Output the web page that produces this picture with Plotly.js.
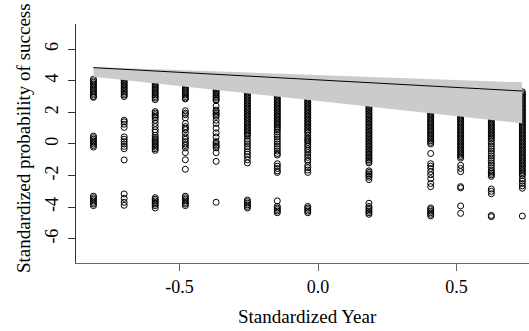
<!DOCTYPE html>
<html>
<head>
<meta charset="utf-8">
<script src="https://cdn.plot.ly/plotly-3.0.1.min.js"></script>
<style>
html,body{margin:0;padding:0;background:#fff;}
#chart{width:529px;height:331px;}
</style>
</head>
<body>
<div id="chart"></div>
<script>
// Standardized year of each observed column
var yearX = [-0.811, -0.700, -0.588, -0.479, -0.368, -0.255, -0.147, -0.037, 0.184, 0.407, 0.515, 0.626, 0.738];

// Standardized probability of success observations per year column
var yr01 = [4.1,4.0,3.9,3.8,3.7,3.6,3.5,3.4,3.3,3.2,3.1,3.0,2.95, 0.5,0.4,0.3,0.2,0.1,0.0,-0.1,-0.2, -3.3,-3.4,-3.5,-3.6,-3.7,-3.8,-3.9];
var yr02 = [4.2,4.1,4.0,3.9,3.8,3.7,3.6,3.5,3.4,3.3,3.2,3.1,3.0, 1.5,1.4,1.25,1.05, 0.45,0.3,0.15,0.0,-0.15,-0.3, -1.01, -3.16,-3.44,-3.69,-3.88];
var yr03 = [4.0,3.9,3.8,3.7,3.6,3.5,3.4,3.3,3.2,3.1,3.0,2.9,2.8, 2.05,1.95,1.85,1.75,1.65,1.5,1.3,1.1,0.9,0.75,0.55,0.4,0.3,0.2,0.1,0.0,-0.1,-0.2,-0.3,-0.4, -3.4,-3.5,-3.6,-3.7,-3.8,-3.9,-4.05];
var yr04 = [3.8,3.7,3.6,3.5,3.4,3.3,3.2,3.1,3.0,2.9,2.85, 2.1,1.95,1.85,1.65,1.3,1.1,1.0,0.9,0.7,0.45,0.3,0.15,0.0,-0.1,-0.25,-0.55, -1.0, -1.6, -3.3,-3.4,-3.5,-3.6,-3.7,-3.8,-3.9];
var yr05 = [3.6,3.5,3.4,3.3,3.2,3.1,3.0,2.9,2.8,2.75, 2.4,2.15,2.05,1.95,1.85,1.75,1.5,1.3,1.0,0.7,0.45,0.15,0.05,-0.05,-0.15,-0.25,-0.55,-1.1, -3.69];
var yr06 = [3.4,3.3,3.2,3.1,3.0,2.9,2.8,2.7,2.6,2.5,2.4,2.3,2.2,2.1,2.0,1.9,1.8,1.7,1.6,1.5,1.4,1.3,1.2,1.1,1.0,0.9,0.8,0.7,0.6,0.5, 0.3,0.15,0.0,-0.15,-0.3,-0.5,-0.65,-0.8,-1.0,-1.2, -3.55,-3.65,-3.75,-3.85,-3.95,-4.05];
var yr07 = [3.2,3.1,3.0,2.9,2.8,2.7,2.6,2.5,2.4,2.3,2.2,2.1,2.0,1.9,1.8,1.7,1.6,1.5,1.4,1.3,1.2,1.1,1.0,0.9, 0.75,0.6,0.45,0.3,0.15,0.0,-0.15,-0.3,-0.45,-0.6,-0.7, -1.25,-1.4,-1.55,-1.7,-1.8, -3.6,-3.95,-4.05,-4.15,-4.25,-4.35];
var yr08 = [3.0,2.9,2.8,2.7,2.6,2.5,2.4,2.3,2.2,2.1,2.0,1.9,1.8,1.7,1.6,1.5,1.4,1.3,1.2,1.1,1.0,0.9,0.8,0.7, 0.55,0.4,0.3,0.2,0.1,-0.05,-0.15,-0.3,-0.4,-0.55,-0.7,-0.85,-1.0,-1.1, -1.35,-1.5,-1.65,-1.8, -3.95,-4.05,-4.15,-4.25,-4.35];
var yr09 = [2.6,2.5,2.4,2.3,2.2,2.1,2.0,1.9,1.8,1.7,1.6,1.5,1.4,1.3,1.2,1.1,1.0,0.9,0.8,0.7,0.6,0.5,0.4,0.3,0.2,0.1,0.0,-0.1,-0.2,-0.3,-0.4,-0.5,-0.6,-0.7,-0.8,-0.9,-1.0,-1.1,-1.2, -1.7,-1.8,-1.9,-2.0,-2.1,-2.25, -3.75,-3.95,-4.05,-4.15,-4.25,-4.35,-4.45];
var yr10 = [2.1,2.0,1.9,1.8,1.7,1.6,1.5,1.4,1.3,1.2,1.1,1.0,0.9,0.8,0.7,0.6,0.5,0.4,0.3,0.2,0.1,0.0, -0.6, -1.25,-1.4,-1.55,-1.75,-1.95,-2.2,-2.5,-2.7, -4.05,-4.15,-4.25,-4.35,-4.45,-4.55];
var yr11 = [1.9,1.8,1.7,1.6,1.5,1.4,1.3,1.2,1.1,1.0,0.9,0.8,0.7,0.6,0.5,0.4,0.3,0.2,0.1,0.0,-0.1,-0.2,-0.3,-0.4,-0.5,-0.6,-0.7,-0.8,-0.9, -1.35,-1.55,-1.75, -2.7,-2.78, -3.92, -4.39];
var yr12 = [1.8,1.7,1.6,1.5,1.4,1.3,1.2,1.1,1.0,0.9,0.8,0.7,0.6,0.5,0.4,0.3,0.15, 0.0,-0.15,-0.3,-0.45,-0.6,-0.75,-0.9,-1.05,-1.2,-1.35,-1.5,-1.65,-1.75,-1.85,-1.95,-2.05, -2.85,-3.0,-3.15, -4.52,-4.6];
var yr13 = [3.3,3.2,3.1,3.0,2.9,2.8,2.7,2.6,2.5,2.4,2.3,2.2,2.1,2.0,1.9,1.8,1.7,1.6,1.5,1.4,1.3,1.2,1.1,1.0,0.9,0.8,0.7,0.6,0.5,0.4,0.3,0.2,0.1,0.0,-0.1,-0.2,-0.3,-0.4,-0.5,-0.6,-0.7,-0.8,-0.9,-1.0,-1.1,-1.2,-1.3,-1.4,-1.5,-1.6,-1.7,-1.8,-1.9,-2.0, -2.2,-2.35,-2.5,-2.65,-2.8, -4.56];

// Fitted trend and its confidence band (at first and last year)
var fitX = [-0.811, 0.737];
var fitY = [4.83, 3.35];
var bandUpper = [4.87, 3.90];
var bandLower = [4.26, 1.31];

// Axis ticks
var xTickVals = [-0.5, 0.0, 0.5];
var xTickText = ['-0.5', '0.0', '0.5'];
var yTickVals = [-6, -4, -2, 0, 2, 4, 6];
var yTickText = ['-6', '-4', '-2', '0', '2', '4', '6'];

var columns = [yr01, yr02, yr03, yr04, yr05, yr06, yr07, yr08, yr09, yr10, yr11, yr12, yr13];
var ptsX = [], ptsY = [];
columns.forEach(function (col, i) {
  col.forEach(function (v) { ptsX.push(yearX[i]); ptsY.push(v); });
});

var serif = 'Liberation Serif, Times New Roman, serif';

var traces = [
  {
    type: 'scatter', mode: 'markers', x: ptsX, y: ptsY, hoverinfo: 'skip',
    marker: {symbol: 'circle-open', size: 6, color: '#000', line: {width: 1, color: '#000'}}
  },
  {
    type: 'scatter', mode: 'lines', hoverinfo: 'skip',
    x: [fitX[0], fitX[1], fitX[1], fitX[0], fitX[0]],
    y: [bandUpper[0], bandUpper[1], bandLower[1], bandLower[0], bandUpper[0]],
    fill: 'toself', fillcolor: '#cbcbcb', line: {width: 0, color: 'rgba(0,0,0,0)'}
  },
  {
    type: 'scatter', mode: 'lines', x: fitX, y: fitY, hoverinfo: 'skip',
    line: {color: '#000', width: 1}
  }
];

var layout = {
  width: 529, height: 331,
  margin: {l: 76, r: 0, t: 24, b: 68, pad: 0},
  paper_bgcolor: '#fff', plot_bgcolor: '#fff',
  showlegend: false,
  font: {family: serif, color: '#000', size: 18},
  xaxis: {
    range: [-0.874, 0.762], showgrid: false, zeroline: false,
    showline: true, linecolor: '#666', linewidth: 1.2,
    ticks: 'outside', ticklen: 7, tickcolor: '#666', tickwidth: 1,
    tickvals: xTickVals, ticktext: xTickText,
    tickfont: {family: serif, size: 18, color: '#000'}
  },
  yaxis: {
    range: [-7.53, 7.59], showgrid: false, zeroline: false,
    showline: true, linecolor: '#333', linewidth: 1,
    ticks: 'outside', ticklen: 7, tickcolor: '#333', tickwidth: 1,
    tickvals: yTickVals, ticktext: yTickText, tickangle: -90,
    ticklabelstandoff: 3,
    tickfont: {family: serif, size: 18, color: '#000'}
  },
  annotations: [
    {text: 'Standardized Year', xref: 'paper', yref: 'paper', x: 0.51, y: -0.223,
     xanchor: 'center', yanchor: 'middle', showarrow: false,
     font: {family: serif, size: 19, color: '#000'}},
    {text: 'Standardized probability of success', xref: 'paper', yref: 'paper', x: -0.116, y: 0.525,
     xanchor: 'center', yanchor: 'middle', showarrow: false, textangle: -90,
     font: {family: serif, size: 19, color: '#000'}}
  ]
};

Plotly.newPlot('chart', traces, layout, {staticPlot: true, displayModeBar: false});
</script>
</body>
</html>
